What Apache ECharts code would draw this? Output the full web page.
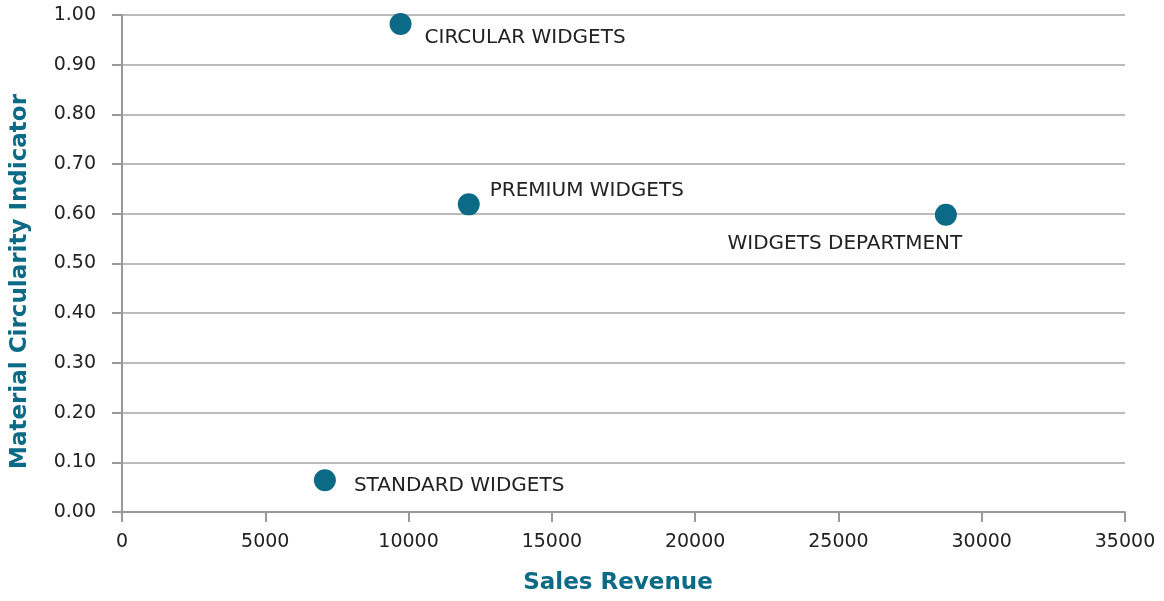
<!DOCTYPE html>
<html>
<head>
<meta charset="utf-8">
<script src="https://cdn.jsdelivr.net/npm/echarts@6/dist/echarts.min.js"></script>
<style>
  html, body { margin: 0; padding: 0; background: #fff; }
  #chart { width: 1164px; height: 601px; }
</style>
</head>
<body>
<div id="chart"></div>
<script>
// products plotted: sales revenue vs material circularity indicator
var names = ['CIRCULAR WIDGETS', 'PREMIUM WIDGETS', 'WIDGETS DEPARTMENT', 'STANDARD WIDGETS'];
var revenue = [9720, 12100, 28750, 7080];
var mci = [0.982, 0.619, 0.598, 0.064];

var teal = '#0b6a86';
var font = 'DejaVu Sans';

// where each label sits relative to its dot
var labelPlace = {
  'CIRCULAR WIDGETS': { position: 'right', distance: 13, offset: [0, 14] },
  'PREMIUM WIDGETS': { position: 'right', distance: 10, offset: [0, -14] },
  'WIDGETS DEPARTMENT': { position: 'bottom', distance: 8, offset: [-101, 0] },
  'STANDARD WIDGETS': { position: 'right', distance: 18, offset: [0, 6] }
};

var chart = echarts.init(document.getElementById('chart'));

var points = names.map(function (n, i) {
  return {
    name: n,
    value: [revenue[i], mci[i]],
    label: labelPlace[n]
  };
});

var option = {
  animation: false,
  textStyle: { fontFamily: font },
  grid: { left: 122, right: 39, top: 15, bottom: 89 },
  xAxis: {
    type: 'value',
    min: 0,
    max: 35000,
    interval: 5000,
    name: 'Sales Revenue',
    nameLocation: 'middle',
    nameGap: 60,
    nameTextStyle: { color: teal, fontSize: 23, fontWeight: 'bold', fontFamily: font, padding: [0, 11, 0, 0] },
    axisLine: { lineStyle: { color: '#999', width: 2 } },
    axisTick: { show: true, length: 10, lineStyle: { color: '#999', width: 2 } },
    axisLabel: {
      color: '#222',
      fontSize: 19,
      margin: 21,
      formatter: function (v) { return String(v); }
    },
    splitLine: { show: false }
  },
  yAxis: {
    type: 'value',
    min: 0,
    max: 1,
    interval: 0.1,
    name: 'Material Circularity Indicator',
    nameLocation: 'middle',
    nameGap: 90,
    nameTextStyle: { color: teal, fontSize: 23, fontWeight: 'bold', fontFamily: font, padding: [0, 36, 0, 0] },
    axisLine: { show: true, lineStyle: { color: '#999', width: 2 } },
    axisTick: { show: true, length: 10, lineStyle: { color: '#999', width: 2 } },
    axisLabel: {
      color: '#222',
      fontSize: 19,
      margin: 26,
      formatter: function (v) { return v.toFixed(2); }
    },
    splitLine: { show: true, lineStyle: { color: '#bbb', width: 2 } }
  },
  series: [
    {
      type: 'scatter',
      symbolSize: 22,
      itemStyle: { color: teal, opacity: 1 },
      label: {
        show: true,
        formatter: '{b}',
        color: '#222',
        fontSize: 20
      },
      data: points
    }
  ]
};

chart.setOption(option);
</script>
</body>
</html>
